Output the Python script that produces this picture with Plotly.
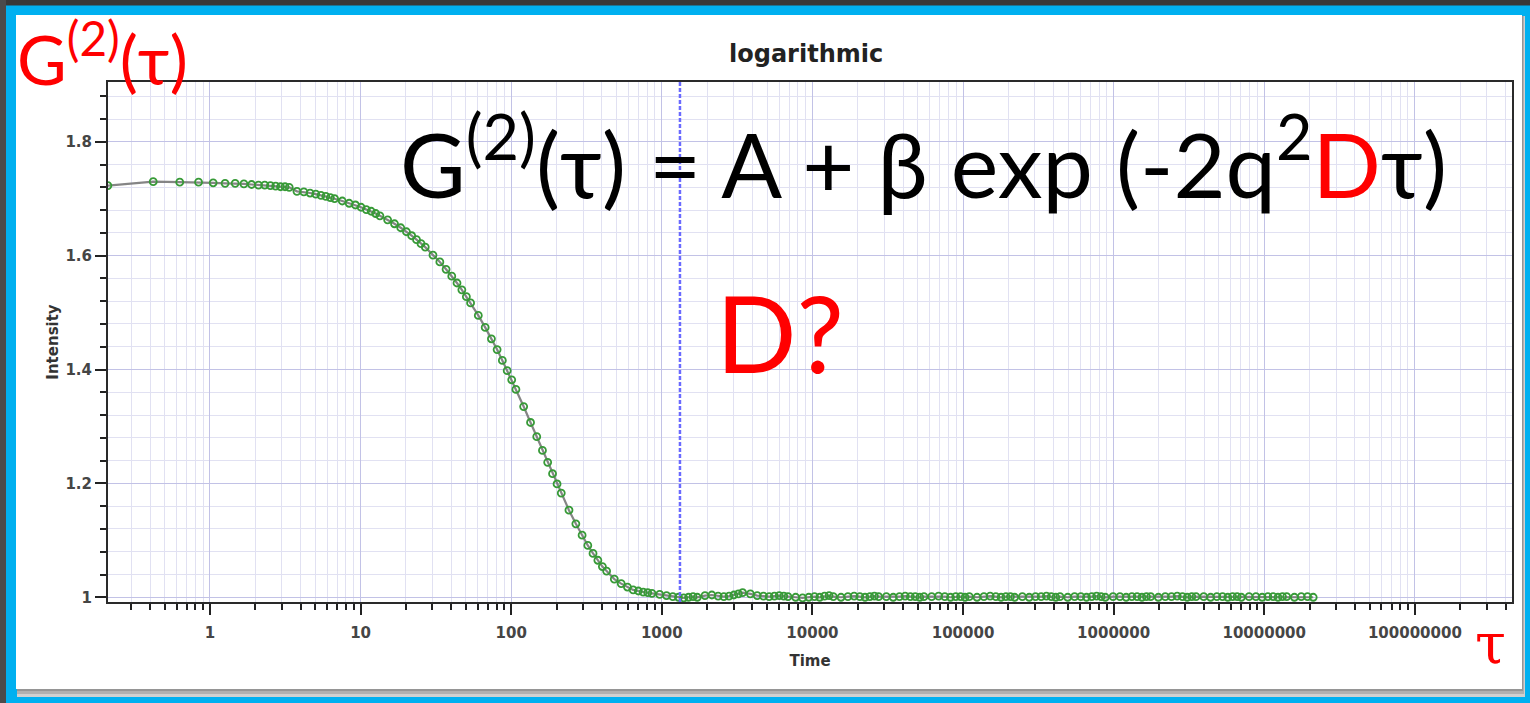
import plotly.graph_objects as go

# Correlation function G2(tau) sampled on the correlator lag channels
tau = [
    0.21, 0.42, 0.63, 0.84, 1.05, 1.26, 1.47, 1.68, 1.89, 2.10, 2.31, 2.52, 2.73, 2.94, 3.15, 3.36,
    3.78, 4.20, 4.62, 5.04, 5.46, 5.88, 6.30, 6.72,
    7.56, 8.40, 9.24, 10.08, 10.92, 11.76, 12.60, 13.44,
    15.12, 16.80, 18.48, 20.16, 21.84, 23.52, 25.20, 26.88,
    30.24, 33.60, 36.96, 40.32, 43.68, 47.04, 50.40, 53.76,
    60.48, 67.20, 73.92, 80.64, 87.36, 94.08, 100.8, 107.5,
    121.0, 134.4, 147.8, 161.3, 174.7, 188.2, 201.6, 215.0,
    241.9, 268.8, 295.7, 322.6, 349.4, 376.3, 403.2, 430.1,
    483.8, 537.6, 591.4, 645.1, 698.9, 752.6, 806.4, 860.2,
    967.7, 1075, 1183, 1290, 1398, 1505, 1613, 1720,
    1935, 2150, 2365, 2581, 2796, 3011, 3226, 3441,
    3871, 4301, 4731, 5161, 5591, 6021, 6451, 6881,
    7741, 8602, 9462, 10322, 11182, 12042, 12902, 13763,
    15483, 17203, 18924, 20644, 22364, 24085, 25805, 27525,
    30966, 34406, 37847, 41288, 44728, 48169, 51610, 55050,
    61932, 68813, 75694, 82575, 89457, 96338, 103219, 110100,
    123863, 137626, 151388, 165151, 178913, 192676, 206438, 220201,
    247726, 275251, 302776, 330301, 357827, 385352, 412877, 440402,
    495452, 550502, 605553, 660603, 715653, 770703, 825754, 880804,
    990904, 1101005, 1211105, 1321206, 1431306, 1541407, 1651507, 1761608,
    1981809, 2202010, 2422211, 2642412, 2862612, 3082813, 3303014, 3523215,
    3963617, 4404019, 4844421, 5284823, 5725225, 6165627, 6606029, 7046431,
    7927235, 8808038, 9688842, 10569646, 11450450, 12331254, 13212058, 14092861,
    15854469, 17616077, 19377685, 21139292,
]
g2 = [
    1.723, 1.730, 1.729, 1.729, 1.728, 1.727, 1.727, 1.726, 1.725, 1.724, 1.724, 1.723, 1.722, 1.721, 1.721, 1.720,
    1.713, 1.712, 1.710, 1.708, 1.706, 1.704, 1.702, 1.700,
    1.696, 1.692, 1.689, 1.685, 1.681, 1.678, 1.674, 1.670,
    1.663, 1.656, 1.649, 1.642, 1.635, 1.628, 1.621, 1.615,
    1.601, 1.589, 1.576, 1.564, 1.552, 1.540, 1.528, 1.517,
    1.495, 1.474, 1.454, 1.435, 1.416, 1.398, 1.382, 1.365,
    1.335, 1.307, 1.282, 1.258, 1.237, 1.217, 1.199, 1.183,
    1.153, 1.129, 1.109, 1.091, 1.077, 1.065, 1.054, 1.046,
    1.032, 1.024, 1.018, 1.013, 1.011, 1.009, 1.008, 1.007,
    1.005, 1.003, 1.001, 1.000, 0.999, 1.000, 1.001, 1.000,
    1.003, 1.004, 1.002, 1.001, 1.002, 1.004, 1.006, 1.008,
    1.006, 1.003, 1.002, 1.001, 1.002, 1.003, 1.002, 1.001,
    1.000, 0.999, 1.000, 1.001, 1.000, 1.002, 1.003, 1.001,
    1.000, 1.001, 1.002, 1.001, 1.000, 1.001, 1.002, 1.001,
    1.001, 1.000, 1.001, 1.002, 1.001, 1.001, 1.000, 1.001,
    1.001, 1.002, 1.001, 1.000, 1.001, 1.001, 1.000, 1.001,
    1.000, 1.001, 1.002, 1.001, 1.000, 1.001, 1.001, 1.000,
    1.001, 1.000, 1.001, 1.001, 1.002, 1.001, 1.000, 1.001,
    1.000, 1.001, 1.001, 1.000, 1.001, 1.002, 1.001, 1.000,
    1.001, 1.001, 1.000, 1.001, 1.001, 1.000, 1.001, 1.001,
    1.000, 1.001, 1.001, 1.002, 1.001, 1.000, 1.001, 1.001,
    1.001, 1.000, 1.001, 1.001, 1.000, 1.001, 1.001, 1.000,
    1.001, 1.001, 1.000, 1.001, 1.001, 1.000, 1.001, 1.001,
    1.000, 1.001, 1.001, 1.000,
]

x_tick_vals = [1, 10, 100, 1000, 10000, 100000, 1000000, 10000000, 100000000]
x_tick_text = ["1", "10", "100", "1000", "10000", "100000", "1000000", "10000000", "100000000"]
y_tick_vals = [1.0, 1.2, 1.4, 1.6, 1.8]
y_tick_text = ["1", "1.2", "1.4", "1.6", "1.8"]
cursor_tau = 1320

W, H = 1530, 703
L, R, T, B = 108, 1512, 82, 602


def px(p):
    return (p - L) / (R - L)


def py(p):
    return (B - p) / (B - T)


def rect(x0, y0, x1, y1, color):
    return dict(type="rect", xref="paper", yref="paper", layer="below",
                x0=px(x0), x1=px(x1), y0=py(y1), y1=py(y0),
                fillcolor=color, line=dict(width=0))


shapes = [
    rect(0, 0, W, 5.5, "#383838"),
    rect(0, 0, 6, H, "#4b4b4b"),
    rect(17, 16, 1525, 697, "#d0d0d0"),
    rect(17, 16, 1524, 694, "#b0b0b0"),
    rect(17, 16, 1523, 691, "#959595"),
    rect(16, 15, 1522, 689, "#ffffff"),
    dict(type="line", xref="x", yref="paper", x0=cursor_tau, x1=cursor_tau, y0=0, y1=1,
         line=dict(color="#6a6aff", width=2.5, dash="4px,2px")),
]

tick_font = dict(family="DejaVu Sans", size=15, color="#454545", weight="bold")
axis_title_font = dict(family="DejaVu Sans", size=15, color="#333333", weight="bold")
slide_font = "Lato"

fig = go.Figure()
fig.add_trace(go.Scatter(
    x=tau, y=g2, mode="lines+markers",
    line=dict(color="rgba(120,120,120,0.9)", width=2.2),
    marker=dict(symbol="circle-open", size=7, color="#379a37", line=dict(width=1.8)),
    showlegend=False,
))

fig.update_layout(
    width=W, height=H, autosize=False,
    margin=dict(l=L, r=W - R, t=T, b=H - B, pad=0),
    paper_bgcolor="#00b0f0", plot_bgcolor="#ffffff",
    shapes=shapes,
    xaxis=dict(
        type="log", range=[-0.677, 8.645],
        tickmode="array", tickvals=x_tick_vals, ticktext=x_tick_text,
        ticks="outside", ticklen=11, tickwidth=1.5, tickcolor="#222222",
        tickfont=tick_font, ticklabelstandoff=5,
        showline=True, linecolor="#2a2a2a", linewidth=2, mirror=True,
        showgrid=True, gridcolor="#c2c2e6", gridwidth=1, zeroline=False,
        minor=dict(dtick="D1", ticks="outside", ticklen=6, tickwidth=1.5, tickcolor="#222222",
                   showgrid=True, gridcolor="#e1e1f2", gridwidth=1),
        title=dict(text="Time", font=axis_title_font, standoff=14),
    ),
    yaxis=dict(
        range=[0.9917, 1.905],
        tickmode="array", tickvals=y_tick_vals, ticktext=y_tick_text,
        ticks="outside", ticklen=11, tickwidth=1.5, tickcolor="#222222",
        tickfont=tick_font,
        showline=True, linecolor="#2a2a2a", linewidth=2, mirror=True,
        showgrid=True, gridcolor="#c2c2e6", gridwidth=1, zeroline=False,
        minor=dict(tick0=1, dtick=0.04, ticks="outside", ticklen=6, tickwidth=1.5, tickcolor="#222222",
                   showgrid=True, gridcolor="#e1e1f2", gridwidth=1),
        title=dict(text="Intensity", font=axis_title_font, standoff=3),
    ),
    annotations=[
        dict(text="logarithmic", xref="paper", yref="paper", x=px(806), y=py(54),
             xanchor="center", yanchor="middle", showarrow=False,
             font=dict(family="DejaVu Sans", size=24, color="#222222", weight="bold")),
        dict(text="G<sup>(2)</sup>(τ) = A + β exp (-2q<sup>2</sup><span style='color:#ff0000'>D</span>τ)",
             xref="paper", yref="paper", x=px(398), y=py(157),
             xanchor="left", yanchor="middle", showarrow=False,
             font=dict(family=slide_font, size=90, color="#000000")),
        dict(text="D?", xref="paper", yref="paper", x=px(714), y=py(332),
             xanchor="left", yanchor="middle", showarrow=False,
             font=dict(family=slide_font, size=106, color="#ff0000")),
        dict(text="G<sup>(2)</sup>(τ)", xref="paper", yref="paper", x=px(15), y=py(54),
             xanchor="left", yanchor="middle", showarrow=False,
             font=dict(family=slide_font, size=68, color="#ff0000")),
        dict(text="τ", xref="paper", yref="paper", x=px(1490), y=py(643),
             xanchor="center", yanchor="middle", showarrow=False,
             font=dict(family="DejaVu Serif", size=56, color="#ff0000")),
    ],
)

fig.write_html("out.html")
